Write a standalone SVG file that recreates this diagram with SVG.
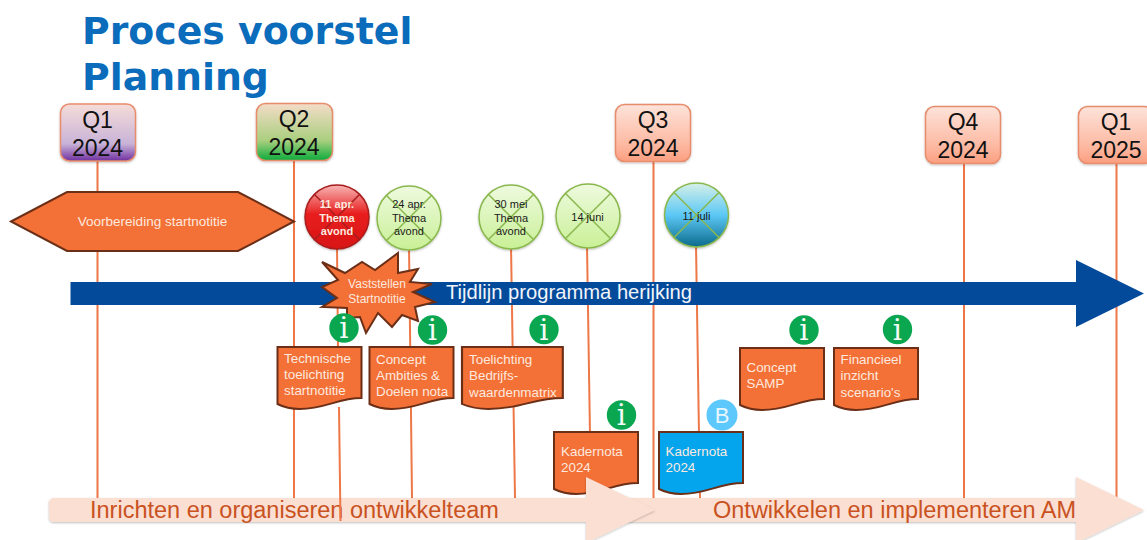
<svg xmlns="http://www.w3.org/2000/svg" width="1147" height="540" viewBox="0 0 1147 540">
<style>
text{font-family:"Liberation Sans",Arial,sans-serif}
.title{font-family:"DejaVu Sans",Verdana,sans-serif;font-weight:700;font-size:37.8px;fill:#0a6cbb}
.q{fill:url(#gq);stroke:#e88d6c;stroke-width:1.5;filter:url(#sh)}
.ql{font-size:23px;fill:#111;text-anchor:middle}
.line{stroke:#ee7748;stroke-width:2;fill:none}
.doc{fill:#f37037;stroke:#6b2f17;stroke-width:2}
.wt{fill:#fde9df;font-size:13.4px}
.cir{stroke:#8ab84e;stroke-width:1.5;filter:url(#sh)}
.x{stroke:#8ab84e;stroke-width:1.5;fill:none}
.ct{font-size:11px;fill:#1a1a1a;text-anchor:middle}
.inf{fill:#0aa650}
.it{font-family:"DejaVu Serif",serif;font-size:29px;fill:#f4fbf6;text-anchor:middle}
.bar{fill:#fbdfd2;filter:url(#sh)}
.bt{font-size:23.5px;fill:#c9521f}
</style>
<defs>
<linearGradient id="gq" x1="0" y1="0" x2="0" y2="1"><stop offset="0" stop-color="#fde3da"/><stop offset=".7" stop-color="#fdb9a2"/><stop offset="1" stop-color="#fb9e80"/></linearGradient>
<linearGradient id="gq1" x1="0" y1="0" x2="0" y2="1"><stop offset="0" stop-color="#f6dcd8"/><stop offset=".7" stop-color="#c8b3d8"/><stop offset="1" stop-color="#7030a0"/></linearGradient>
<linearGradient id="gq2" x1="0" y1="0" x2="0" y2="1"><stop offset="0" stop-color="#f4dcc8"/><stop offset=".65" stop-color="#a9cf7e"/><stop offset="1" stop-color="#0bab3c"/></linearGradient>
<linearGradient id="gg" x1="0" y1="0" x2="0" y2="1"><stop offset="0" stop-color="#eefadf"/><stop offset="1" stop-color="#c9f096"/></linearGradient>
<linearGradient id="gr" x1="0" y1="0" x2="0" y2="1"><stop offset="0" stop-color="#f7b5b5"/><stop offset=".45" stop-color="#e81e1e"/><stop offset="1" stop-color="#d81414"/></linearGradient>
<linearGradient id="gb" x1="0" y1="0" x2="0" y2="1"><stop offset="0" stop-color="#d5f0e8"/><stop offset=".5" stop-color="#5cc8f5"/><stop offset="1" stop-color="#0b6a8c"/></linearGradient>
<filter id="sh" x="-10%" y="-10%" width="120%" height="125%"><feDropShadow dx="0" dy="1" stdDeviation="1" flood-color="#000" flood-opacity=".25"/></filter>
<path id="wave" d="M0 0H84V51C60 51 48 62 22 62C12 62 6 60 0 57Z"/>
<g id="info"><circle class="inf" r="14.7"/><text class="it" y="10">i</text></g>
</defs>

<g id="connectors">
<path class="line" d="M97.5 161V498M294 160V498M653.500 161V498"/>
<path class="line" d="M964 163V498M1116.500 163V500" stroke-width="1.500"/>
<path class="line" d="M337 245L338 350M409 245L412 498M511 245L515 498M587 245L591 498M696 245L700 498"/>
</g>

<g id="title"><text class="title" x="82" y="44">Proces voorstel</text><text class="title" x="82" y="90">Planning</text></g>

<g id="q1-2024"><rect class="q" style="fill:url(#gq1)" x="60.500" y="104" width="75" height="57" rx="9"/><text class="ql" x="97.500" y="128">Q1</text><text class="ql" x="97.500" y="156">2024</text></g>
<g id="q2-2024"><rect class="q" style="fill:url(#gq2)" x="256.500" y="103.500" width="76" height="57" rx="9"/><text class="ql" x="294" y="127">Q2</text><text class="ql" x="294" y="155">2024</text></g>
<g id="q3-2024"><rect class="q" x="615.500" y="104.500" width="75" height="57" rx="9"/><text class="ql" x="653" y="128">Q3</text><text class="ql" x="653" y="156">2024</text></g>
<g id="q4-2024"><rect class="q" x="925.500" y="106.500" width="75" height="57" rx="9"/><text class="ql" x="963" y="130">Q4</text><text class="ql" x="963" y="158">2024</text></g>
<g id="q1-2025"><rect class="q" x="1078.500" y="106.500" width="75" height="57" rx="9"/><text class="ql" x="1116" y="130">Q1</text><text class="ql" x="1116" y="158">2025</text></g>

<g id="voorbereiding"><polygon points="11,221.500 67,192 238,192 294,221.500 238,251 67,251" fill="#f37037" stroke="#6b2f17" stroke-width="2"/><text x="152.500" y="226" font-size="13.5" fill="#fde9df" text-anchor="middle">Voorbereiding startnotitie</text></g>

<g id="tijdlijn"><polygon points="70.500,282 1076,282 1076,260 1144,293.500 1076,327 1076,305 70.500,305" fill="#034a9a"/></g>

<g id="thema-11-apr"><circle class="cir" style="fill:url(#gr);stroke:#a81c1c" cx="337" cy="217" r="32"/><path class="x" style="stroke:#a81c1c" d="M314.500 194.500L359.500 239.500M359.500 194.500L314.500 239.500"/><text class="ct" style="fill:#fde9df;font-weight:700" x="337" y="208">11 apr.</text><text class="ct" style="fill:#fde9df;font-weight:700" x="337" y="221.500">Thema</text><text class="ct" style="fill:#fde9df;font-weight:700" x="337" y="235">avond</text></g>
<g id="thema-24-apr"><circle class="cir" fill="url(#gg)" cx="409" cy="218" r="32"/><path class="x" d="M386.500 195.500L431.500 240.500M431.500 195.500L386.500 240.500"/><text class="ct" x="409" y="208">24 apr.</text><text class="ct" x="409" y="221.500">Thema</text><text class="ct" x="409" y="235">avond</text></g>
<g id="thema-30-mei"><circle class="cir" fill="url(#gg)" cx="511" cy="217" r="32"/><path class="x" d="M488.500 194.500L533.500 239.500M533.500 194.500L488.500 239.500"/><text class="ct" x="511" y="208">30 mei</text><text class="ct" x="511" y="221.500">Thema</text><text class="ct" x="511" y="235">avond</text></g>
<g id="datum-14-juni"><circle class="cir" fill="url(#gg)" cx="588" cy="216" r="32"/><path class="x" d="M565.500 193.500L610.500 238.500M610.500 193.500L565.500 238.500"/><text class="ct" x="587.500" y="221">14 juni</text></g>
<g id="datum-11-juli"><circle class="cir" fill="url(#gb)" cx="696.500" cy="215" r="32"/><path class="x" d="M674 192.500L719 237.500M719 192.500L674 237.500"/><text class="ct" x="696.500" y="220">11 juli</text></g>

<text x="446" y="299" font-size="20.200" fill="#f2f5fa">Tijdlijn programma herijking</text>

<g id="doc-technische"><use href="#wave" class="doc" transform="translate(277.500 347)"/><text class="wt" x="284" y="363">Technische</text><text class="wt" x="284" y="379">toelichting</text><text class="wt" x="284" y="395">startnotitie</text></g>
<g id="doc-concept-ambities"><use href="#wave" class="doc" transform="translate(369.500 347)"/><text class="wt" x="376" y="364">Concept</text><text class="wt" x="376" y="380">Ambities &amp;</text><text class="wt" x="376" y="396">Doelen nota</text></g>
<g id="doc-toelichting"><use href="#wave" class="doc" transform="translate(462 347) scale(1.2 1)" style="stroke-width:1.800"/><text class="wt" x="469" y="364">Toelichting</text><text class="wt" x="469" y="380">Bedrijfs-</text><text class="wt" x="469" y="397">waardenmatrix</text></g>
<g id="doc-samp"><use href="#wave" class="doc" transform="translate(740 348)"/><text class="wt" x="746.500" y="372">Concept</text><text class="wt" x="746.500" y="388">SAMP</text></g>
<g id="doc-financieel"><use href="#wave" class="doc" transform="translate(834 348)"/><text class="wt" x="840.500" y="364">Financieel</text><text class="wt" x="840.500" y="380">inzicht</text><text class="wt" x="840.500" y="397">scenario's</text></g>
<g id="doc-kadernota-oranje"><use href="#wave" class="doc" transform="translate(554 432)"/><text class="wt" x="561" y="456">Kadernota</text><text class="wt" x="561" y="472">2024</text></g>
<g id="doc-kadernota-blauw"><use href="#wave" class="doc" style="fill:#04a5ec" transform="translate(659 432)"/><text class="wt" x="665.500" y="456">Kadernota</text><text class="wt" x="665.500" y="472">2024</text></g>

<g id="vaststellen"><polygon points="322,262 345,273 362,262 375,270 398,253 398,273 418,269 410,282 432,284 413,292 435,302 415,307 418,321 402,315 392,327 378,313 366,333 360,317 347,318 347,308 322,307 337,298 322,287 338,280" fill="#f37037" stroke="#6b2f17" stroke-width="2"/><text class="wt" x="377" y="288" text-anchor="middle" style="font-size:12px">Vaststellen</text><text class="wt" x="377" y="303" text-anchor="middle" style="font-size:12px">Startnotitie</text></g>

<use id="info-1" href="#info" x="344" y="328"/>
<use id="info-2" href="#info" x="432.500" y="330"/>
<use id="info-3" href="#info" x="544" y="329.500"/>
<use id="info-4" href="#info" x="621.500" y="415"/>
<use id="info-5" href="#info" x="804" y="330"/>
<use id="info-6" href="#info" x="897.500" y="329.500"/>
<g id="badge-b"><circle cx="722" cy="415" r="15.500" fill="#5cc8fb"/><text x="722" y="423" font-size="22" fill="#e8f7ff" text-anchor="middle">B</text></g>

<g id="balk-ontwikkelen"><polygon class="bar" points="615,498 1076,498 1076,477 1144,510 1076,543 1076,522 615,522"/><text class="bt" x="713" y="518">Ontwikkelen en implementeren AM</text></g>
<g id="balk-inrichten"><polygon class="bar" points="52,498 586,498 586,477 655,510 586,543 586,522 52,522 49,519 49,501"/><text class="bt" x="90" y="518">Inrichten en organiseren ontwikkelteam</text></g>
<path class="line" d="M339 407L340.500 521"/>
</svg>
